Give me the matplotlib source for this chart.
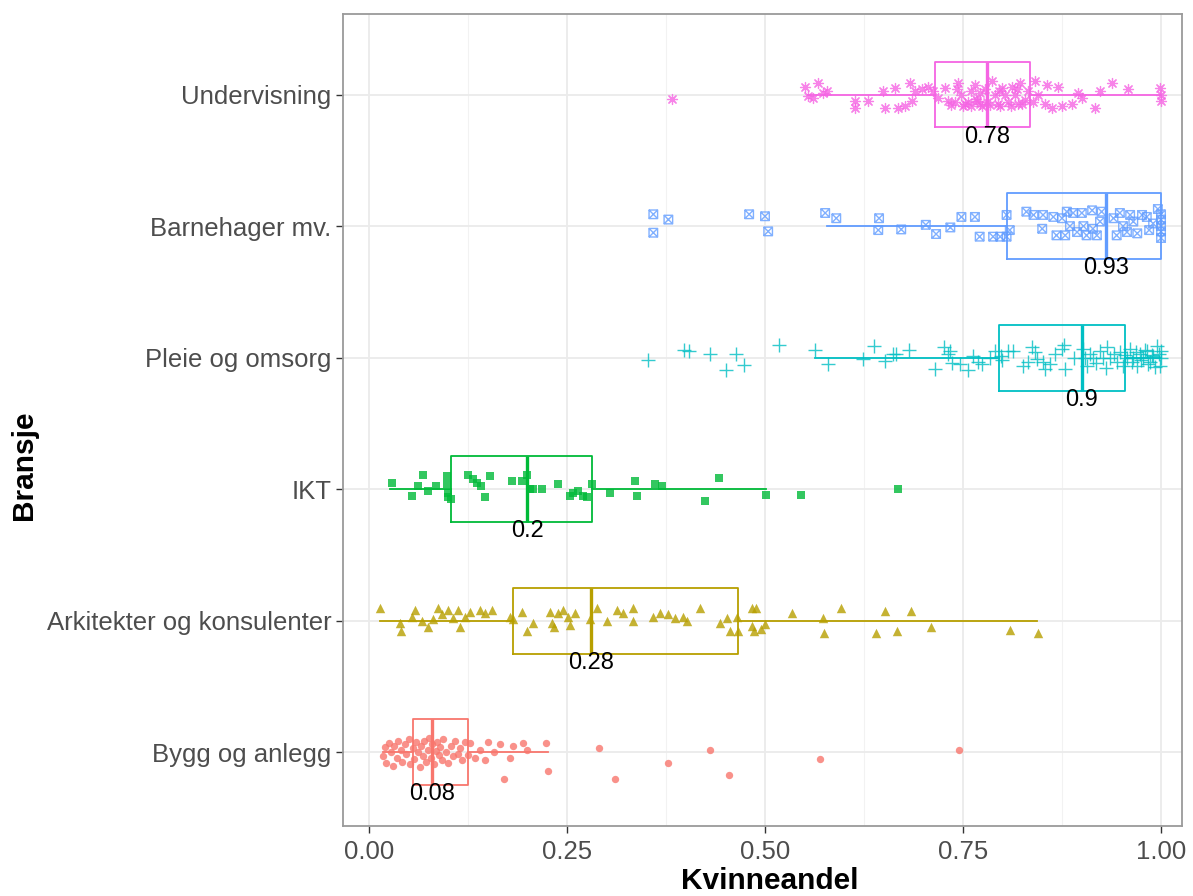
import matplotlib
matplotlib.use("Agg")
import matplotlib.pyplot as plt
from matplotlib.path import Path
import numpy as np

plt.rcParams['font.family'] = ['Liberation Sans', 'DejaVu Sans']

# ---------------- data ----------------
categories = ["Bygg og anlegg", "Arkitekter og konsulenter", "IKT",
              "Pleie og omsorg", "Barnehager mv.", "Undervisning"]
colors = ["#F8766D", "#B79F00", "#00BA38", "#00BFC4", "#619CFF", "#F564E3"]

# box statistics: whisker low, Q1, median, Q3, whisker high
whislo = [0.018, 0.014, 0.026, 0.563, 0.578, 0.554]
q1     = [0.056, 0.182, 0.104, 0.795, 0.806, 0.715]
median = [0.08, 0.28, 0.2, 0.9, 0.93, 0.78]
q3     = [0.125, 0.466, 0.281, 0.955, 1.0, 0.835]
whishi = [0.226, 0.843, 0.501, 1.0, 1.0, 1.0]
median_labels = ["0.08", "0.28", "0.2", "0.9", "0.93", "0.78"]

# jittered observations: (kvinneandel, vertical jitter)
bygg_pts = [
    (0.018, -0.03), (0.020, 0.04), (0.022, -0.08), (0.025, 0.07), (0.028, 0.00),
    (0.030, -0.10), (0.032, 0.05), (0.035, -0.04), (0.037, 0.09), (0.040, 0.02),
    (0.042, -0.07), (0.045, 0.06), (0.047, -0.01), (0.050, 0.10), (0.052, -0.09),
    (0.055, 0.03), (0.057, -0.05), (0.060, 0.08), (0.062, 0.00), (0.064, -0.11),
    (0.066, 0.05), (0.068, -0.03), (0.070, 0.09), (0.072, -0.07), (0.074, 0.02),
    (0.076, 0.11), (0.078, -0.04), (0.080, 0.06), (0.082, -0.09), (0.084, 0.01),
    (0.086, 0.08), (0.088, -0.02), (0.090, 0.04), (0.092, -0.06), (0.094, 0.10),
    (0.097, 0.00), (0.100, -0.08), (0.103, 0.05), (0.106, -0.03), (0.109, 0.09),
    (0.112, -0.01), (0.115, 0.03), (0.118, -0.06), (0.121, 0.08), (0.125, -0.02),
    (0.128, 0.07), (0.134, -0.04), (0.140, 0.02), (0.146, -0.06), (0.150, 0.08),
    (0.158, 0.00), (0.165, 0.06), (0.170, -0.20), (0.178, -0.04), (0.182, 0.05),
    (0.195, 0.07), (0.200, 0.02), (0.224, 0.07), (0.226, -0.14),
    (0.29, 0.03), (0.31, -0.20), (0.378, -0.08), (0.43, 0.02), (0.455, -0.17),
    (0.57, -0.05), (0.745, 0.02),
]
ark_pts = [
    (0.014, 0.10), (0.039, -0.015), (0.041, -0.08), (0.054, 0.03), (0.058, 0.08),
    (0.067, 0.00), (0.075, -0.05), (0.081, 0.01), (0.087, 0.10), (0.092, 0.05),
    (0.100, 0.08), (0.106, 0.02), (0.112, 0.08), (0.115, -0.05), (0.121, 0.03),
    (0.128, 0.07), (0.140, 0.08), (0.146, 0.06), (0.155, 0.08), (0.178, 0.03),
    (0.182, 0.01), (0.193, 0.07), (0.200, -0.08), (0.207, -0.02), (0.229, 0.07),
    (0.231, -0.02), (0.233, -0.05), (0.239, 0.06), (0.245, 0.08), (0.251, 0.03),
    (0.254, -0.03), (0.260, 0.06), (0.279, 0.01), (0.288, 0.10), (0.300, 0.00),
    (0.313, 0.08), (0.321, 0.06), (0.333, 0.00), (0.333, 0.10), (0.359, 0.03),
    (0.367, 0.06), (0.378, 0.05), (0.386, 0.02), (0.396, 0.03), (0.401, 0.00),
    (0.418, 0.10), (0.443, -0.02), (0.452, 0.02), (0.456, -0.08), (0.465, 0.03),
    (0.466, -0.08), (0.483, 0.10), (0.489, 0.10), (0.483, -0.04), (0.495, -0.06),
    (0.500, -0.025), (0.486, -0.075), (0.534, 0.06), (0.573, 0.025), (0.574, -0.09),
    (0.596, 0.10), (0.640, -0.09), (0.652, 0.075), (0.667, -0.075), (0.684, 0.075),
    (0.709, -0.045), (0.809, -0.07), (0.845, -0.09),
]
ikt_pts = [
    (0.029, 0.05), (0.054, -0.05), (0.062, 0.025), (0.068, 0.11), (0.075, -0.01),
    (0.085, 0.025), (0.098, 0.10), (0.098, 0.04), (0.100, -0.025), (0.100, -0.06),
    (0.104, -0.075), (0.125, 0.11), (0.131, 0.075), (0.136, 0.05), (0.142, 0.025),
    (0.147, -0.06), (0.153, 0.10), (0.180, 0.06), (0.193, 0.06), (0.199, 0.11),
    (0.203, 0.00), (0.207, 0.00), (0.218, 0.00), (0.239, 0.04), (0.254, -0.05),
    (0.258, -0.025), (0.264, -0.01), (0.270, -0.05), (0.275, -0.06), (0.281, 0.04),
    (0.304, -0.025), (0.336, 0.06), (0.338, -0.05), (0.361, 0.04), (0.370, 0.025),
    (0.424, -0.09), (0.442, 0.085), (0.501, -0.04), (0.545, -0.04), (0.668, 0.00),
]
pleie_pts = [
    (0.352, -0.02), (0.398, 0.055), (0.404, 0.05), (0.430, 0.025), (0.463, 0.025),
    (0.451, -0.09), (0.473, -0.055), (0.518, 0.10), (0.563, 0.055), (0.580, -0.045),
    (0.624, -0.01), (0.638, 0.09), (0.651, -0.025), (0.662, 0.03), (0.665, 0.025),
    (0.682, 0.06), (0.715, -0.085), (0.726, 0.08), (0.731, 0.03), (0.733, 0.05),
    (0.736, -0.04), (0.746, -0.05), (0.756, -0.09), (0.763, 0.015), (0.769, -0.035),
    (0.774, -0.05), (0.784, 0.00), (0.790, 0.05), (0.798, 0.01), (0.799, -0.02),
    (0.807, 0.05), (0.813, 0.05), (0.826, -0.06), (0.832, -0.035), (0.837, 0.08),
    (0.841, 0.04), (0.843, -0.01), (0.851, -0.035), (0.854, -0.085), (0.860, -0.05),
    (0.866, 0.03), (0.875, 0.065), (0.877, 0.10), (0.879, -0.085), (0.890, 0.00),
    (0.902, 0.065), (0.904, 0.00), (0.906, -0.06), (0.910, 0.03), (0.914, 0.00),
    (0.918, -0.04), (0.923, 0.05), (0.927, 0.00), (0.930, -0.08), (0.932, 0.08),
    (0.936, 0.00), (0.940, 0.03), (0.944, -0.035), (0.948, 0.04), (0.952, -0.06),
    (0.955, 0.02), (0.957, 0.00), (0.961, 0.065), (0.963, -0.03), (0.965, 0.00),
    (0.968, 0.04), (0.970, -0.06), (0.973, 0.03), (0.975, -0.02), (0.977, 0.00),
    (0.980, 0.06), (0.982, 0.05), (0.984, -0.05), (0.986, -0.035), (0.988, 0.02),
    (0.990, 0.015), (0.992, -0.07), (0.995, 0.09), (0.997, 0.03), (0.999, -0.06),
    (1.000, 0.00), (1.000, 0.05),
]
barn_pts = [
    (0.359, 0.09), (0.359, -0.05), (0.378, 0.05), (0.480, 0.09), (0.500, 0.075),
    (0.504, -0.04), (0.576, 0.10), (0.590, 0.06), (0.644, 0.06), (0.643, -0.03),
    (0.672, -0.025), (0.703, 0.01), (0.716, -0.06), (0.734, -0.01), (0.748, 0.07),
    (0.765, 0.07), (0.771, -0.08), (0.788, -0.08), (0.797, -0.08), (0.805, -0.08),
    (0.805, 0.085), (0.809, -0.03), (0.830, 0.11), (0.839, 0.085), (0.850, -0.02),
    (0.851, 0.085), (0.864, 0.07), (0.868, -0.07), (0.875, 0.06), (0.879, -0.07),
    (0.881, 0.11), (0.885, 0.00), (0.889, 0.10), (0.894, -0.045), (0.900, 0.10),
    (0.902, 0.00), (0.906, -0.07), (0.913, 0.12), (0.914, -0.02), (0.919, -0.07),
    (0.923, 0.035), (0.925, 0.11), (0.940, 0.06), (0.944, -0.07), (0.948, 0.10),
    (0.952, 0.00), (0.957, -0.045), (0.961, 0.085), (0.965, 0.035), (0.970, -0.055),
    (0.976, 0.085), (0.982, 0.07), (0.985, -0.03), (0.990, 0.02), (0.996, 0.13),
    (1.000, 0.09), (1.000, 0.05), (1.000, 0.00), (1.000, -0.04), (1.000, -0.09),
]
underv_pts = [
    (0.382, -0.03), (0.550, 0.06), (0.554, -0.01), (0.560, -0.025), (0.567, 0.09),
    (0.573, 0.01), (0.578, 0.025), (0.614, -0.10), (0.614, -0.05), (0.630, -0.05),
    (0.649, 0.025), (0.652, -0.10), (0.664, 0.05), (0.668, -0.10), (0.677, -0.09),
    (0.683, 0.09), (0.685, -0.05), (0.689, 0.025), (0.698, 0.04), (0.706, 0.06),
    (0.712, 0.025), (0.718, -0.025), (0.727, 0.05), (0.731, -0.05), (0.735, -0.08),
    (0.740, -0.06), (0.744, 0.09), (0.748, 0.00), (0.750, -0.09), (0.753, -0.075),
    (0.756, -0.06), (0.760, -0.09), (0.765, 0.075), (0.768, -0.05), (0.771, -0.075),
    (0.774, -0.09), (0.778, 0.04), (0.780, -0.06), (0.784, -0.08), (0.787, 0.10),
    (0.790, 0.00), (0.794, -0.075), (0.797, -0.09), (0.799, 0.05), (0.803, 0.00),
    (0.807, -0.06), (0.810, -0.085), (0.812, 0.06), (0.816, 0.00), (0.819, -0.07),
    (0.822, 0.09), (0.825, -0.075), (0.828, -0.04), (0.832, 0.025), (0.838, -0.06),
    (0.841, 0.10), (0.845, 0.00), (0.854, -0.075), (0.856, 0.075), (0.862, -0.10),
    (0.870, 0.06), (0.875, -0.09), (0.888, -0.075), (0.895, 0.01), (0.900, -0.025),
    (0.917, -0.10), (0.923, 0.025), (0.938, 0.09), (0.958, 0.04), (0.999, 0.05),
    (1.000, 0.00), (1.000, -0.05), (0.760, 0.03), (0.772, 0.01), (0.795, 0.03),
    (0.742, 0.04), (0.818, 0.04), (0.766, -0.03),
]
all_pts = [bygg_pts, ark_pts, ikt_pts, pleie_pts, barn_pts, underv_pts]

# ---------------- markers ----------------
sq_cross = Path([(-1, -1), (1, -1), (1, 1), (-1, 1), (-1, -1),
                 (-1, -1), (1, 1), (-1, 1), (1, -1)],
                [Path.MOVETO, Path.LINETO, Path.LINETO, Path.LINETO, Path.CLOSEPOLY,
                 Path.MOVETO, Path.LINETO, Path.MOVETO, Path.LINETO])
marker_specs = [
    dict(marker='o', s=28, kind='filled', lw=0),
    dict(marker='^', s=46, kind='filled', lw=0),
    dict(marker='s', s=28, kind='filled', lw=0),
    dict(marker='+', s=90, kind='line', lw=1.0),
    dict(marker=sq_cross, s=38, kind='path', lw=1.0),
    dict(marker=(8, 2, 0), s=52, kind='line', lw=0.9),
]

# ---------------- figure ----------------
fig = plt.figure(figsize=(11.93, 8.96), dpi=100)
ax = fig.add_axes([0.2875, 0.0781, 0.7033, 0.9059])

ypos = np.arange(1, len(categories) + 1)
for i, y in enumerate(ypos):
    c = colors[i]
    stats = [dict(whislo=whislo[i], q1=q1[i], med=median[i], q3=q3[i],
                  whishi=whishi[i], fliers=[])]
    ax.bxp(stats, positions=[y], widths=0.5, vert=False, showfliers=False,
           showcaps=False, patch_artist=False,
           boxprops=dict(color=c, linewidth=1.3),
           whiskerprops=dict(color=c, linewidth=1.3),
           medianprops=dict(color=c, linewidth=2.4),
           zorder=2)
    xs = [p[0] for p in all_pts[i]]
    ys = [y + p[1] for p in all_pts[i]]
    spec = marker_specs[i]
    if spec['kind'] in ('filled', 'line'):
        ax.scatter(xs, ys, marker=spec['marker'], s=spec['s'], color=c,
                   alpha=0.8, linewidths=spec['lw'], zorder=3)
    else:
        ax.scatter(xs, ys, marker=spec['marker'], s=spec['s'], facecolors='none',
                   edgecolors=c, alpha=0.8, linewidths=spec['lw'], zorder=3)
    ax.text(median[i], y - 0.32, median_labels[i], ha='center', va='center',
            fontsize=17, color='black', zorder=4)

ax.set_xlim(-0.0328, 1.0265)
ax.set_ylim(0.44, 6.61)
ax.set_yticks(ypos)
ax.set_yticklabels(categories)
ax.set_xticks([0, 0.25, 0.5, 0.75, 1.0])
ax.set_xticklabels(["0.00", "0.25", "0.50", "0.75", "1.00"])
ax.set_xticks([0.125, 0.375, 0.625, 0.875], minor=True)

ax.grid(True, which='major', color='#EBEBEB', linewidth=1.3, zorder=0)
ax.grid(True, which='minor', axis='x', color='#F2F2F2', linewidth=0.8, zorder=0)
ax.set_axisbelow(True)

for sp in ax.spines.values():
    sp.set_color('#9A9A9A')
    sp.set_linewidth(1.3)

ax.tick_params(axis='both', which='major', labelsize=18.5, colors='#333333',
               labelcolor='#4D4D4D', length=5, width=1)
ax.tick_params(axis='x', which='major', pad=5)
ax.tick_params(axis='both', which='minor', length=0)

ax.set_xlabel("Kvinneandel", fontsize=21.5, fontweight='bold')
ax.set_ylabel("Bransje", fontsize=21.5, fontweight='bold')
ax.xaxis.set_label_coords(0.509, -0.0505)
ax.yaxis.set_label_coords(-0.3635, 0.445)

fig.savefig("out.png", dpi=100)
